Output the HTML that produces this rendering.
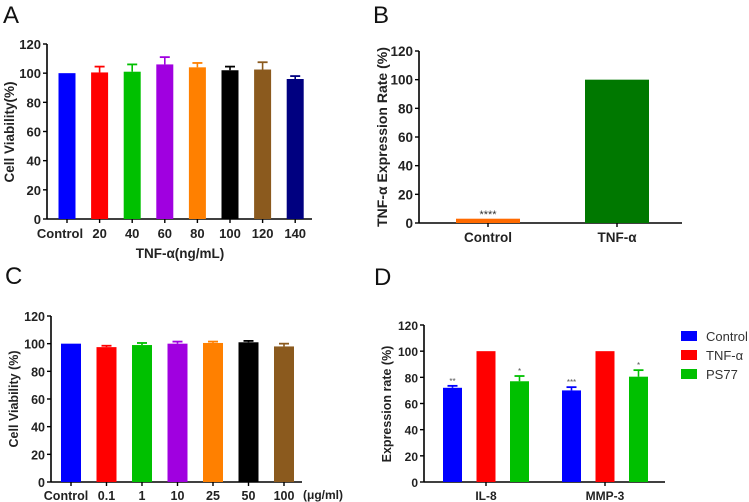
<!DOCTYPE html>
<html><head><meta charset="utf-8"><style>
body{margin:0;background:#fff}
svg{display:block;font-family:"Liberation Sans",Arial,sans-serif}
</style></head><body>
<svg id="s" width="749" height="502" viewBox="0 0 749 502">
<text x="3" y="23" font-size="24" fill="#111">A</text>
<text x="373" y="23" font-size="24" fill="#111">B</text>
<text x="5" y="284" font-size="24" fill="#111">C</text>
<text x="374" y="285" font-size="24" fill="#111">D</text>
</svg>
<script>
const aCats=["Control","20","40","60","80","100","120","140"];
const aVals=[100,100.5,101,106,104,102,102.5,96];
const aErrs=[0,4,5,5,3,2.5,5,2];
const aColors=["#0000ff","#ff0000","#00c000","#a000e0","#ff8000","#000000","#8b5a1e","#000080"];
const bCats=["Control","TNF-α"];
const bVals=[3,100];
const bColors=["#ff6a00","#007800"];
const cCats=["Control","0.1","1","10","25","50","100"];
const cVals=[100,97.5,99,100,100.5,101,98];
const cErrs=[0,1,1.5,1.5,1,1,2];
const cColors=["#0000ff","#ff0000","#00c000","#a000e0","#ff8000","#000000","#8b5a1e"];
const dCats=["IL-8","MMP-3"];
const dSeries=["Control","TNF-α","PS77"];
const dControl=[72,70];
const dTnf=[100,100];
const dPs77=[77,80.5];
const dControlErr=[1.5,2.5];
const dPs77Err=[4,5];
const dStars=[["**","","*"],["***","","*"]];
const dColors=["#0000ff","#ff0000","#00c000"];
const yTicks=[0,20,40,60,80,100,120];

const svg=document.getElementById('s');
const NS='http://www.w3.org/2000/svg';
function mk(tag,attrs,parent){const e=document.createElementNS(NS,tag);for(const k in attrs)e.setAttribute(k,attrs[k]);(parent||svg).appendChild(e);return e;}

function axes(g,x0,xEnd,y0,y120,fs){
  const ys=v=>y0-(v/120)*(y0-y120);
  const ax=mk('line',{x1:x0,y1:y120,x2:x0,y2:y0+0.5,stroke:'#000','stroke-width':1.6},g);
  
  
  const bx=mk('line',{x1:x0,y1:y0,x2:xEnd,y2:y0,stroke:'#000','stroke-width':1.6},g);
  
  
  yTicks.forEach(t=>{
    const y=ys(t);
    mk('line',{x1:x0-4,y1:y,x2:x0,y2:y,stroke:'#000','stroke-width':1.4},g);
    const tx=mk('text',{x:x0-6,y:y+5,'font-size':fs,'font-weight':'bold','text-anchor':'end',fill:'#222'},g);
    tx.textContent=t;
    
    
  });
  return ys;
}
function bar(g,cx,w,y0,yv,col,err,ys){
  const r=mk('rect',{x:cx-w/2,y:yv,width:w,height:y0-yv,fill:col},g);
  
  
  if(err>0){
    mk('line',{x1:cx,y1:yv,x2:cx,y2:yv-err,stroke:col,'stroke-width':1.6},g);
    mk('line',{x1:cx-5,y1:yv-err,x2:cx+5,y2:yv-err,stroke:col,'stroke-width':1.8},g);
  }
}
function ylabel(g,x,y,txt,fs){
  const t=mk('text',{x:x,y:y,'font-size':fs,'font-weight':'bold','text-anchor':'middle',fill:'#222',transform:`rotate(-90 ${x} ${y})`},g);
  t.textContent=txt;
  
  
}
function xlab(g,x,y,txt,fs,bold){
  const t=mk('text',{x:x,y:y,'font-size':fs,'font-weight':bold?'bold':'normal','text-anchor':'middle',fill:'#222'},g);
  t.textContent=txt;
  
  
}

// Panel A
{
  const g=mk('g',{});
  
  
  const x0=47,y0=219,y120=44;
  const ys=axes(g,x0,312,y0,y120,13);
  const xs=i=>67+i*32.6;
  aVals.forEach((v,i)=>{
    bar(g,xs(i),17,y0,ys(v),aColors[i],aErrs[i]*(y0-y120)/120,ys);
    mk('line',{x1:xs(i),y1:y0,x2:xs(i),y2:y0+4,stroke:'#000','stroke-width':1.4},g);
    xlab(g,i==0?xs(i)-7:xs(i),238,aCats[i],13,true);
  });
  const t=mk('text',{x:180,y:258,'font-size':13.5,'font-weight':'bold','text-anchor':'middle',fill:'#222'},g);
  t.textContent='TNF-α(ng/mL)';
  
  
  ylabel(g,14,132,'Cell Viability(%)',13.5);
}
// Panel B
{
  const g=mk('g',{});
  
  
  const x0=419,y0=223,y120=51;
  const ys=axes(g,x0,682,y0,y120,13.5);
  const xs=i=>488+i*129;
  bVals.forEach((v,i)=>{
    bar(g,xs(i),64,y0,ys(v),bColors[i],0,ys);
    mk('line',{x1:xs(i),y1:y0,x2:xs(i),y2:y0+4,stroke:'#000','stroke-width':1.4},g);
    xlab(g,xs(i),242,bCats[i],13.5,true);
  });
  const st=mk('text',{x:488,y:218,'font-size':11,'text-anchor':'middle',fill:'#333'},g);
  st.textContent='****';
  
  
  ylabel(g,387,137,'TNF-α Expression Rate (%)',14);
}
// Panel C
{
  const g=mk('g',{});
  
  
  const x0=51,y0=482,y120=316;
  const ys=axes(g,x0,302,y0,y120,12.5);
  const xs=i=>71+i*35.5;
  cVals.forEach((v,i)=>{
    bar(g,xs(i),20,y0,ys(v),cColors[i],cErrs[i]*(y0-y120)/120,ys);
    mk('line',{x1:xs(i),y1:y0,x2:xs(i),y2:y0+4,stroke:'#000','stroke-width':1.4},g);
    xlab(g,i==0?xs(i)-5:xs(i),500,cCats[i],12.5,true);
  });
  const u=mk('text',{x:303,y:499,'font-size':12,'font-weight':'bold',fill:'#222'},g);
  u.textContent='(μg/ml)';
  
  
  ylabel(g,18,399,'Cell Viability (%)',12.5);
}
// Panel D
{
  const g=mk('g',{});
  
  
  const x0=424,y0=482,y120=325;
  const ys=axes(g,x0,665,y0,y120,12);
  const k=(y0-y120)/120;
  const gc=i=>486+i*119;
  const series=[dControl,dTnf,dPs77];
  const errs=[dControlErr,[0,0],dPs77Err];
  dCats.forEach((c,i)=>{
    series.forEach((s,j)=>{
      const cx=gc(i)+(j-1)*33.5;
      bar(g,cx,19,y0,ys(s[i]),dColors[j],errs[j][i]*k,ys);
      if(dStars[i][j]){
        const st=mk('text',{x:cx,y:ys(s[i])-errs[j][i]*k-2,'font-size':8,'text-anchor':'middle',fill:'#555'},g);
        st.textContent=dStars[i][j];
        
        
      }
    });
    mk('line',{x1:gc(i),y1:y0,x2:gc(i),y2:y0+4,stroke:'#000','stroke-width':1.4},g);
    xlab(g,gc(i),500,c,12,true);
  });
  ylabel(g,391,404,'Expression rate (%)',12.5);
  dSeries.forEach((n,j)=>{
    const y=336+j*19;
    const r=mk('rect',{x:681,y:y-5,width:16,height:10,fill:dColors[j]},g);
    
    
    const t=mk('text',{x:706,y:y+5,'font-size':13,fill:'#333'},g);
    t.textContent=n;
    
    
  });
}
</script>
</body></html>
